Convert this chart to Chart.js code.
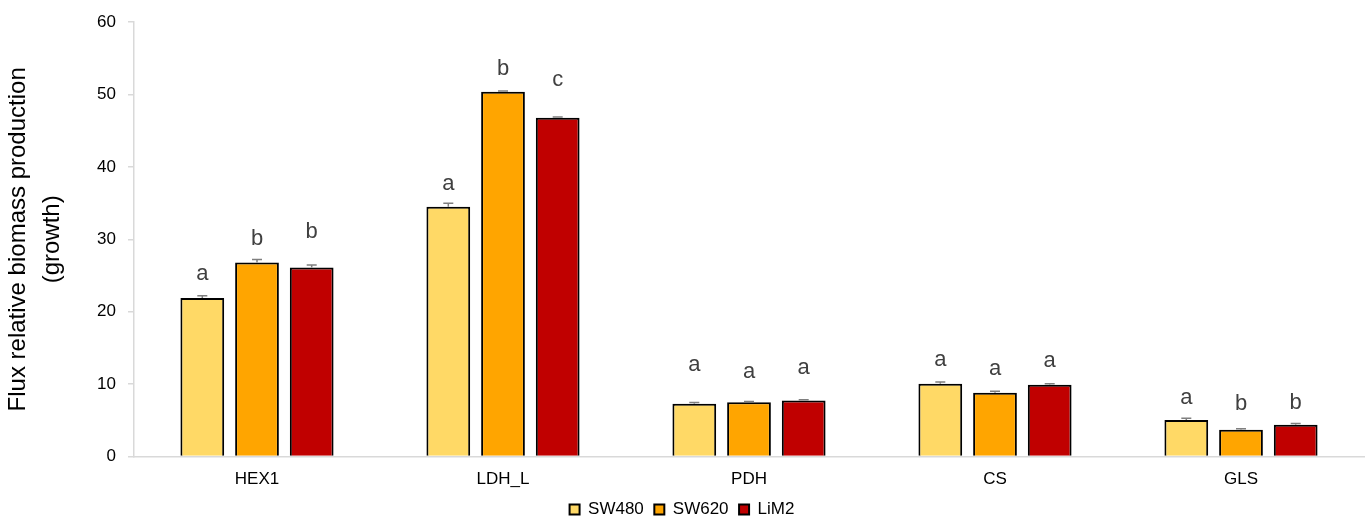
<!DOCTYPE html>
<html lang="en">
<head>
    <meta charset="UTF-8">
    <title>Flux relative biomass production</title>
    <script src="https://cdn.jsdelivr.net/npm/chart.js"></script>
    <style>
        html, body { margin: 0; padding: 0; background: #fff; }
        #wrap { width: 1365px; height: 528px; }
    </style>
</head>
<body>
    <div id="wrap"><canvas id="fluxChart"></canvas></div>

    <script>
        const reactions = ['HEX1', 'LDH_L', 'PDH', 'CS', 'GLS'];

        // mean flux per cell line
        const sw480 = [21.9, 34.5, 7.3, 10.05, 5.05];
        const sw620 = [26.8, 50.4, 7.5, 8.8, 3.7];
        const lim2  = [26.1, 46.8, 7.75, 9.9, 4.4];

        // standard errors
        const sw480Err = [0.3, 0.5, 0.15, 0.25, 0.25];
        const sw620Err = [0.4, 0.1, 0.1, 0.2, 0.15];
        const lim2Err  = [0.35, 0.1, 0.1, 0.15, 0.15];

        // significance letters and where they sit on the y scale
        const sw480Sig = ['a', 'a', 'a', 'a', 'a'];
        const sw620Sig = ['b', 'b', 'a', 'a', 'b'];
        const lim2Sig  = ['b', 'c', 'a', 'a', 'b'];
        const sw480SigY = [25.2, 37.7, 12.7, 13.4, 8.1];
        const sw620SigY = [30.1, 53.5, 11.7, 12.1, 7.2];
        const lim2SigY  = [31.0, 52.0, 12.2, 13.2, 7.4];

        const yTicks = [0, 10, 20, 30, 40, 50, 60];

        const FONT = 'Liberation Sans, Arial, sans-serif';

        // error bars + letters on top of each bar
        const barExtras = {
            id: 'barExtras',
            afterDatasetsDraw(chart) {
                const ctx = chart.ctx;
                const y = chart.scales.y;
                chart.data.datasets.forEach((ds, i) => {
                    const meta = chart.getDatasetMeta(i);
                    meta.data.forEach((bar, j) => {
                        const top = y.getPixelForValue(ds.data[j] + ds.err[j]);
                        const x = bar.x;
                        ctx.save();
                        ctx.strokeStyle = '#7f7f7f';
                        ctx.lineWidth = 1.5;
                        ctx.beginPath();
                        ctx.moveTo(x, bar.y);
                        ctx.lineTo(x, top);
                        ctx.moveTo(x - 5, top);
                        ctx.lineTo(x + 5, top);
                        ctx.stroke();

                        ctx.fillStyle = '#404040';
                        ctx.font = '22px ' + FONT;
                        ctx.textAlign = 'center';
                        ctx.textBaseline = 'middle';
                        ctx.fillText(ds.sig[j], x, y.getPixelForValue(ds.sigY[j]));
                        ctx.restore();
                    });
                });
            }
        };

        const ctx = document.getElementById('fluxChart').getContext('2d');
        new Chart(ctx, {
            type: 'bar',
            data: {
                labels: reactions,
                datasets: [
                    { label: 'SW480', data: sw480, err: sw480Err, sig: sw480Sig, sigY: sw480SigY,
                      backgroundColor: '#FFD966' },
                    { label: 'SW620', data: sw620, err: sw620Err, sig: sw620Sig, sigY: sw620SigY,
                      backgroundColor: '#FFA500' },
                    { label: 'LiM2', data: lim2, err: lim2Err, sig: lim2Sig, sigY: lim2SigY,
                      backgroundColor: '#C00000' }
                ].map(d => Object.assign(d, {
                    borderColor: '#000',
                    borderWidth: 2,
                    borderSkipped: 'bottom',
                    barPercentage: 0.8,
                    categoryPercentage: 0.667
                }))
            },
            plugins: [barExtras],
            options: {
                responsive: true,
                maintainAspectRatio: false,
                animation: false,
                layout: { padding: { top: 18, right: 1, left: 0, bottom: 0 } },
                plugins: {
                    tooltip: { enabled: false },
                    legend: {
                        position: 'bottom',
                        labels: {
                            boxWidth: 10,
                            boxHeight: 10,
                            padding: 10.5,
                            color: '#000',
                            font: { family: FONT, size: 17 }
                        }
                    }
                },
                scales: {
                    x: {
                        afterFit: s => { s.height = 34; },
                        grid: { display: false },
                        border: { color: '#d9d9d9', width: 1.5 },
                        ticks: { color: '#000', padding: 5, font: { family: FONT, size: 17 } }
                    },
                    y: {
                        min: 0,
                        max: 60,
                        afterBuildTicks: s => { s.ticks = yTicks.map(v => ({ value: v })); },
                        afterFit: s => { s.width = 134; },
                        grid: { drawOnChartArea: false, drawTicks: true, tickLength: 6, color: '#d9d9d9', lineWidth: 1.5 },
                        border: { color: '#d9d9d9', width: 1.5 },
                        ticks: { color: '#000', padding: 12, font: { family: FONT, size: 17 } },
                        title: {
                            display: true,
                            text: ['Flux relative biomass production', '(growth)'],
                            color: '#000',
                            padding: { top: 2, bottom: 0 },
                            font: { family: FONT, size: 24, lineHeight: 1.4 }
                        }
                    }
                }
            }
        });
    </script>
</body>
</html>
